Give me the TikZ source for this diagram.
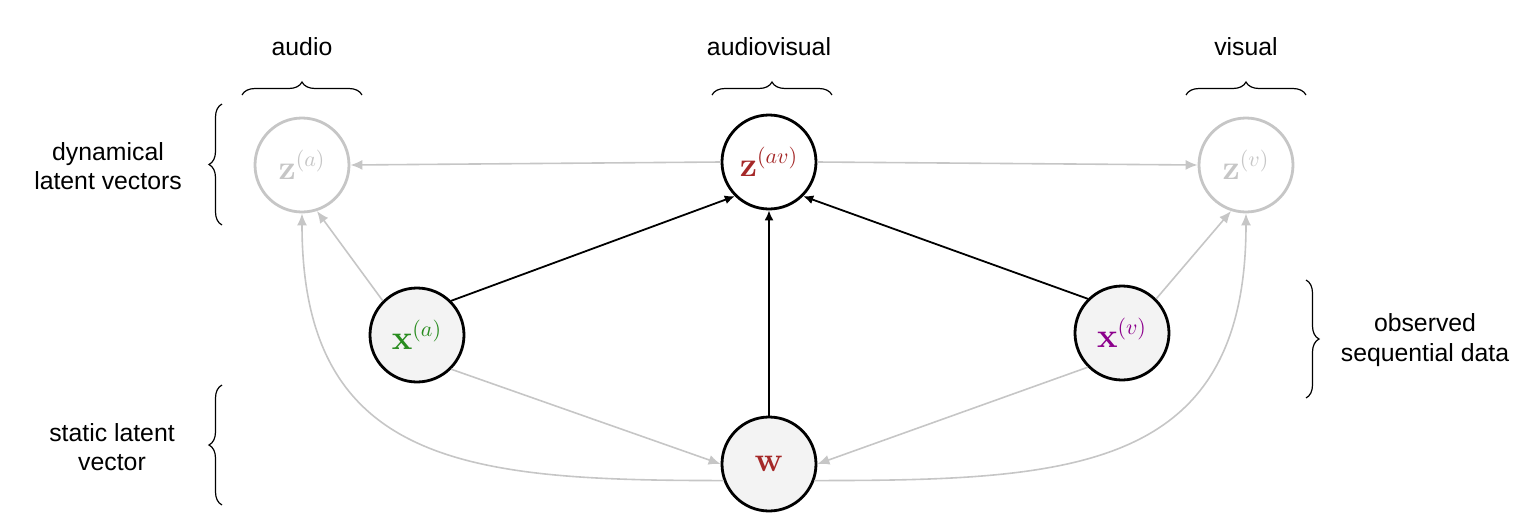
\documentclass[tikz,border=0pt]{standalone}
\usepackage[no-math]{fontspec}
\newfontfamily\labelfont{Liberation Sans}
\usetikzlibrary{arrows.meta,decorations.pathreplacing}
\definecolor{greyc}{RGB}{198,198,198}
\definecolor{wred}{RGB}{165,40,40}
\definecolor{xagreen}{RGB}{40,140,30}
\definecolor{xvpurple}{RGB}{140,0,140}
\definecolor{obsfill}{RGB}{243,243,243}
\begin{document}
\begin{tikzpicture}[x=0.5pt,y=-0.5pt,
  lbl/.style={font=\labelfont\fontsize{12.4}{14.6}\selectfont, align=center},
  var/.style={circle, minimum size=47pt, inner sep=0pt, line width=1.4pt, font=\fontsize{16}{19}\selectfont},
  obs/.style={var, draw=black, fill=obsfill},
  lat/.style={var, draw=black, fill=white},
  dimv/.style={var, draw=greyc, fill=white, text=greyc},
  darr/.style={-{Latex[length=5pt,width=4.5pt]}, line width=0.9pt, draw=black},
  garr/.style={-{Latex[length=6pt,width=5pt]}, line width=0.8pt, draw=greyc},
  brc/.style={decorate, decoration={brace, amplitude=6.5pt}, line width=0.6pt}
]
\useasboundingbox (0,0) rectangle (1517,521);

% nodes
\node[dimv] (za) at (302,165) {$\mathbf{z}^{(a)}$};
\node[lat, text=wred] (zav) at (769,162) {$\mathbf{z}^{(av)}$};
\node[dimv] (zv) at (1246,165) {$\mathbf{z}^{(v)}$};
\node[obs, text=xagreen] (xa) at (417,335) {$\mathbf{x}^{(a)}$};
\node[obs, text=xvpurple] (xv) at (1122,333) {$\mathbf{x}^{(v)}$};
\node[obs, text=wred] (w) at (769,464) {$\mathbf{w}$};

% labels
\node[lbl] (laudio) at (302,47) {audio};
\node[lbl] (lav) at (769,47) {audiovisual};
\node[lbl] (lvis) at (1246,47) {visual};
\node[lbl] (ldyn) at (108,166) {dynamical\\latent vectors};
\node[lbl] (lstat) at (112,447) {static latent\\vector};
\node[lbl] (lobs) at (1425,340) {observed\\sequential data};

% brace end points
\coordinate (ba1) at (242,95); \coordinate (ba2) at (362,95);
\coordinate (bb1) at (712,95); \coordinate (bb2) at (832,95);
\coordinate (bc1) at (1186,95); \coordinate (bc2) at (1306,95);
\coordinate (bd1) at (222,225); \coordinate (bd2) at (222,104);
\coordinate (be1) at (222,505); \coordinate (be2) at (222,385);
\coordinate (bf1) at (1306,280); \coordinate (bf2) at (1306,398);
\draw[brc] (ba1) -- (ba2);
\draw[brc] (bb1) -- (bb2);
\draw[brc] (bc1) -- (bc2);
\draw[brc] (bd1) -- (bd2);
\draw[brc] (be1) -- (be2);
\draw[brc] (bf1) -- (bf2);

% edges
\draw[garr] (zav.west) -- (za.east);
\draw[garr] (zav.east) -- (zv.west);
\draw[garr] (xa.north west) -- (za.-72);
\draw[garr] (xv.north east) -- (zv.-108);
\draw[garr] (xa.south east) -- (w.west);
\draw[garr] (xv.south west) -- (w.east);
\draw[garr] (w.200) to[out=180,in=-90,looseness=1.3] (za.south);
\draw[garr] (w.-20) to[out=0,in=-90,looseness=1.3] (zv.south);
\draw[darr] (xa.north east) -- (zav.south west);
\draw[darr] (w.north) -- (zav.south);
\draw[darr] (xv.north west) -- (zav.south east);
\end{tikzpicture}
\end{document}
